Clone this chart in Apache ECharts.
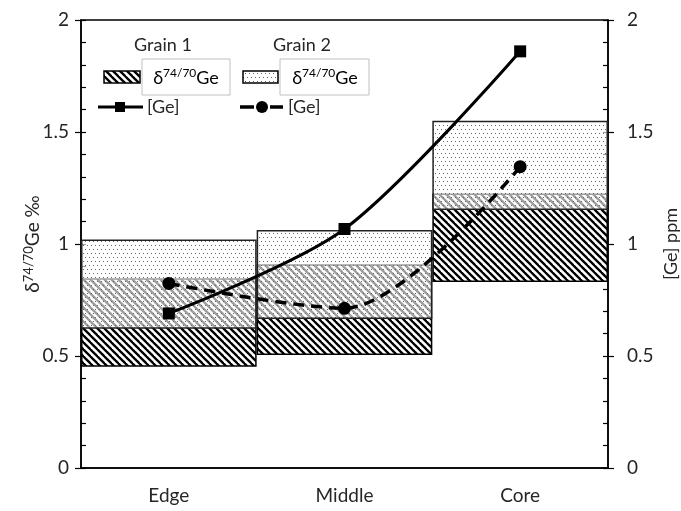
<!DOCTYPE html>
<html><head><meta charset="utf-8">
<script src="https://cdn.jsdelivr.net/npm/echarts@6/dist/echarts.min.js"></script>
<style>html,body{margin:0;padding:0;background:#fff}#c{width:681px;height:511px}</style>
</head><body><div id="c"></div>
<script>
// ---- data ----
const categories = ['Edge', 'Middle', 'Core'];
const grain1DeltaLow  = [0.452, 0.505, 0.83];
const grain1DeltaHigh = [0.847, 0.91, 1.226];
const grain2DeltaLow  = [0.622, 0.665, 1.152];
const grain2DeltaHigh = [1.02, 1.063, 1.55];
const grain1Ge = [0.69, 1.067, 1.86];
const grain2Ge = [0.824, 0.713, 1.345];
const axisMin = 0, axisMax = 2, axisStep = 0.5;

// ---- patterns ----
function hatchCanvas() {
  const p = 7, c = document.createElement('canvas');
  c.width = c.height = p;
  const g = c.getContext('2d');
  g.fillStyle = '#fff'; g.fillRect(0, 0, p, p);
  g.strokeStyle = '#000'; g.lineWidth = 2.3;
  for (const o of [-p, 0, p]) { g.beginPath(); g.moveTo(o - 1, -1); g.lineTo(o + p + 1, p + 1); g.stroke(); }
  return c;
}
function dotCanvas() {
  const c = document.createElement('canvas');
  c.width = 8; c.height = 8;
  const g = c.getContext('2d');
  g.fillStyle = 'rgba(255,255,255,0.62)'; g.fillRect(0, 0, 8, 8);
  g.fillStyle = '#666';
  g.fillRect(1, 1, 1, 1); g.fillRect(5, 1, 1, 1); g.fillRect(3, 5, 1, 1); g.fillRect(7, 5, 1, 1);
  return c;
}
const hatch = { image: hatchCanvas(), repeat: 'repeat' };
const dots = { image: dotCanvas(), repeat: 'repeat' };

const FONT = 'Lato, "Noto Sans", sans-serif';
const TXT = '#262626';
const range = (lo, hi) => hi.map((h, i) => +(h - lo[i]).toFixed(4));

const legendRich = {
  a: { fontSize: 18, fontFamily: FONT, color: TXT, lineHeight: 22 },
  s: { fontSize: 12, fontFamily: FONT, color: TXT, verticalAlign: 'top' }
};
const nameRich = {
  a: { fontSize: 19, fontFamily: FONT, color: TXT, lineHeight: 22 },
  s: { fontSize: 13, fontFamily: FONT, color: TXT, verticalAlign: 'top' }
};

const chart = echarts.init(document.getElementById('c'), null, { renderer: 'canvas' });
const gridRect = { left: 81, right: 73, top: 20, bottom: 43 };

const baseBar = { type: 'bar', barGap: '-100%', barCategoryGap: '0%', silent: true };

chart.setOption({
  animation: false,
  backgroundColor: '#fff',
  grid: [
    Object.assign({ show: true, borderColor: '#000', borderWidth: 1.5, containLabel: false, outerBoundsMode: 'none' }, gridRect),
    Object.assign({ show: false, containLabel: false, outerBoundsMode: 'none' }, gridRect)
  ],
  xAxis: [
    { type: 'category', gridIndex: 0, data: categories,
      axisLine: { lineStyle: { color: '#000', width: 1.5 } },
      axisTick: { inside: true, length: 6, lineStyle: { color: '#000', width: 1.5 } },
      axisLabel: { fontSize: 19, fontFamily: FONT, color: TXT, margin: 18 } },
    { type: 'category', gridIndex: 1, data: categories, show: false }
  ],
  yAxis: [
    { type: 'value', gridIndex: 0, position: 'left', min: axisMin, max: axisMax, interval: axisStep,
      name: '{a|δ}{s|74/70}{a|Ge ‰}', nameLocation: 'middle', nameGap: 37, nameMoveOverlap: false,
      nameTextStyle: { rich: nameRich },
      axisLine: { show: true, lineStyle: { color: '#000', width: 1.5 } },
      axisTick: { show: true, inside: false, length: 6, lineStyle: { color: '#000', width: 1.2 } },
      axisLabel: { fontSize: 19, fontFamily: FONT, color: TXT, margin: 12 },
      splitLine: { show: false } },
    { type: 'value', gridIndex: 0, position: 'right', min: axisMin, max: axisMax, interval: axisStep,
      name: '[Ge] ppm', nameLocation: 'middle', nameGap: 54, nameMoveOverlap: false,
      nameTextStyle: { fontSize: 18, fontFamily: FONT, color: TXT },
      axisLine: { show: true, lineStyle: { color: '#000', width: 1.5 } },
      axisTick: { show: true, inside: false, length: 6, lineStyle: { color: '#000', width: 1.2 } },
      axisLabel: { fontSize: 19, fontFamily: FONT, color: TXT, margin: 19 },
      splitLine: { show: false } },
    { type: 'value', gridIndex: 1, position: 'left', min: axisMin, max: axisMax, interval: axisStep,
      axisLine: { show: false }, axisLabel: { show: false }, splitLine: { show: false },
      axisTick: { show: true, inside: true, length: 5, lineStyle: { color: '#000', width: 1.2 } },
      minorTick: { show: true, splitNumber: 5, length: 5, lineStyle: { color: '#000', width: 1.2 } } },
    { type: 'value', gridIndex: 1, position: 'right', min: axisMin, max: axisMax, interval: axisStep,
      axisLine: { show: false }, axisLabel: { show: false }, splitLine: { show: false },
      axisTick: { show: true, inside: true, length: 5, lineStyle: { color: '#000', width: 1.2 } },
      minorTick: { show: true, splitNumber: 5, length: 5, lineStyle: { color: '#000', width: 1.2 } } }
  ],
  series: [
    Object.assign({}, baseBar, { name: 'g1base', stack: 'g1', data: grain1DeltaLow,
      itemStyle: { color: 'rgba(0,0,0,0)', borderWidth: 0 } }),
    Object.assign({}, baseBar, { name: 'Grain 1 δ', stack: 'g1', data: range(grain1DeltaLow, grain1DeltaHigh),
      itemStyle: { color: hatch, borderColor: '#000', borderWidth: 1.5 } }),
    Object.assign({}, baseBar, { name: 'g2base', stack: 'g2', data: grain2DeltaLow,
      itemStyle: { color: 'rgba(0,0,0,0)', borderWidth: 0 } }),
    Object.assign({}, baseBar, { name: 'Grain 2 δ', stack: 'g2', data: range(grain2DeltaLow, grain2DeltaHigh),
      itemStyle: { color: dots, borderColor: '#222', borderWidth: 1.5 } }),
    { type: 'line', name: 'Grain 1 [Ge]', yAxisIndex: 1, data: grain1Ge, smooth: 0.3, z: 10,
      symbol: 'rect', symbolSize: 12, lineStyle: { color: '#000', width: 3 }, itemStyle: { color: '#000' } },
    { type: 'line', name: 'Grain 2 [Ge]', yAxisIndex: 1, data: grain2Ge, smooth: 0.3, z: 10,
      symbol: 'circle', symbolSize: 13, lineStyle: { color: '#000', width: 3.5, type: [11, 7] }, itemStyle: { color: '#000' } }
  ],
  graphic: [
    { type: 'text', x: 163, y: 45, style: { text: 'Grain 1', font: '18px ' + FONT, fill: TXT, align: 'center', verticalAlign: 'middle' } },
    { type: 'text', x: 302, y: 45, style: { text: 'Grain 2', font: '18px ' + FONT, fill: TXT, align: 'center', verticalAlign: 'middle' } },
    { type: 'rect', shape: { x: 104, y: 71, width: 36, height: 12 }, style: { fill: hatch, stroke: '#000', lineWidth: 1.5 } },
    { type: 'rect', shape: { x: 142, y: 59, width: 88, height: 36 }, style: { fill: '#fff', stroke: '#c0c0c0', lineWidth: 1 } },
    { type: 'text', x: 186, y: 78, style: { text: '{a|δ}{s|74/70}{a|Ge}', rich: legendRich, align: 'center', verticalAlign: 'middle' } },
    { type: 'rect', shape: { x: 243, y: 71, width: 35, height: 12 }, style: { fill: dots, stroke: '#000', lineWidth: 1.5 } },
    { type: 'rect', shape: { x: 280, y: 59, width: 89, height: 36 }, style: { fill: '#fff', stroke: '#c0c0c0', lineWidth: 1 } },
    { type: 'text', x: 325, y: 78, style: { text: '{a|δ}{s|74/70}{a|Ge}', rich: legendRich, align: 'center', verticalAlign: 'middle' } },
    { type: 'line', shape: { x1: 98, y1: 107, x2: 143, y2: 107 }, style: { stroke: '#000', lineWidth: 3 } },
    { type: 'rect', shape: { x: 115, y: 102, width: 10, height: 10 }, style: { fill: '#000' } },
    { type: 'text', x: 147, y: 107, style: { text: '[Ge]', font: '18px ' + FONT, fill: TXT, align: 'left', verticalAlign: 'middle' } },
    { type: 'line', shape: { x1: 240, y1: 107, x2: 254, y2: 107 }, style: { stroke: '#000', lineWidth: 3.5 } },
    { type: 'line', shape: { x1: 270, y1: 107, x2: 283, y2: 107 }, style: { stroke: '#000', lineWidth: 3.5 } },
    { type: 'circle', shape: { cx: 262, cy: 107, r: 6 }, style: { fill: '#000' } },
    { type: 'text', x: 288, y: 107, style: { text: '[Ge]', font: '18px ' + FONT, fill: TXT, align: 'left', verticalAlign: 'middle' } }
  ]
});
</script>
</body></html>
